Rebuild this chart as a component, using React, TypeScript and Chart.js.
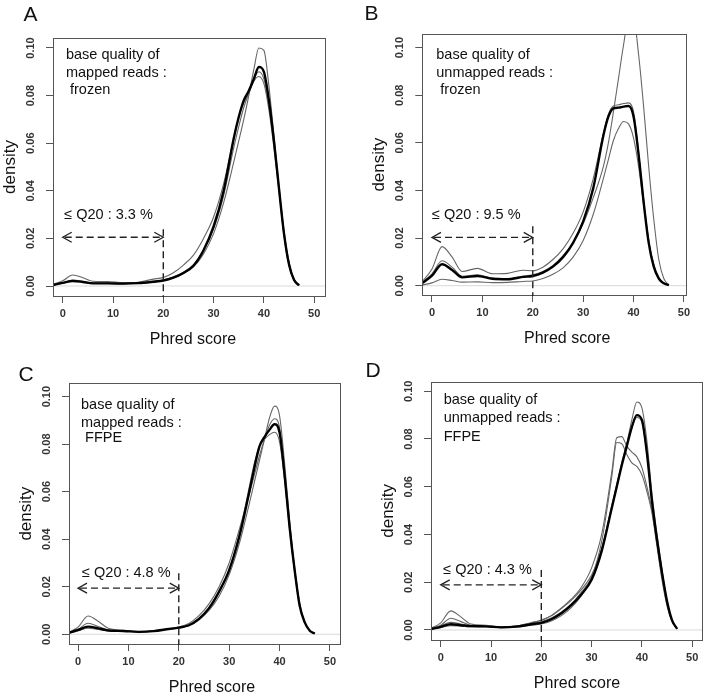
import React, { useEffect, useRef } from 'react';
import { Chart, registerables } from 'chart.js';
Chart.register(...registerables);

const FONT = '"Liberation Sans", Arial, Helvetica, sans-serif';

// Phred score grid shared by all density curves
const phred = [-2, 0, 2, 4, 6, 9, 12, 15, 18, 20, 22, 24, 26, 28, 30, 32, 34, 35, 36, 37, 38, 39, 40, 41, 42, 43, 44, 45, 46, 47];

const xTicks = [0, 10, 20, 30, 40, 50];
const yTicks = [0, 0.02, 0.04, 0.06, 0.08, 0.1];
const yTickLabels = ['0.00', '0.02', '0.04', '0.06', '0.08', '0.10'];
const xTitle = 'Phred score';
const yTitle = 'density';

// Panel A: mapped reads, frozen
const A_s1 = [0.0004, 0.0012, 0.0022, 0.0018, 0.0012, 0.0012, 0.001, 0.0012, 0.0018, 0.0023, 0.0034, 0.0052, 0.008, 0.0135, 0.022, 0.035, 0.052, 0.061, 0.07, 0.08, 0.091, 0.1, 0.099, 0.084, 0.063, 0.042, 0.023, 0.01, 0.003, 0.0004];
const A_s2 = [0.0004, 0.0013, 0.0025, 0.002, 0.0013, 0.0012, 0.001, 0.0012, 0.002, 0.0025, 0.0038, 0.0058, 0.009, 0.015, 0.024, 0.038, 0.058, 0.067, 0.075, 0.081, 0.087, 0.09, 0.087, 0.076, 0.06, 0.041, 0.022, 0.009, 0.0025, 0.0003];
const A_s3 = [0.0006, 0.0022, 0.0046, 0.0035, 0.002, 0.0019, 0.0014, 0.0016, 0.0029, 0.0036, 0.0056, 0.0088, 0.013, 0.02, 0.029, 0.043, 0.062, 0.071, 0.077, 0.081, 0.086, 0.088, 0.085, 0.074, 0.058, 0.04, 0.021, 0.0085, 0.0024, 0.0003];
const A_mean = [0.0004, 0.0013, 0.0021, 0.0017, 0.0011, 0.0011, 0.001, 0.0012, 0.0018, 0.0023, 0.0035, 0.0055, 0.0085, 0.015, 0.025, 0.04, 0.062, 0.071, 0.078, 0.082, 0.087, 0.092, 0.09, 0.078, 0.061, 0.041, 0.022, 0.009, 0.0025, 0.0003];

// Panel B: unmapped reads, frozen
const B_s1 = [0.0015, 0.007, 0.0164, 0.012, 0.006, 0.0073, 0.005, 0.0052, 0.0065, 0.0063, 0.0078, 0.011, 0.0155, 0.022, 0.031, 0.045, 0.064, 0.072, 0.0755, 0.076, 0.0765, 0.0768, 0.073, 0.056, 0.036, 0.019, 0.0085, 0.0032, 0.001, 0.0002];
const B_s2 = [0.0012, 0.005, 0.0105, 0.0078, 0.004, 0.0046, 0.0032, 0.003, 0.004, 0.0046, 0.006, 0.0085, 0.0125, 0.018, 0.026, 0.037, 0.05, 0.06, 0.073, 0.087, 0.101, 0.112, 0.112, 0.097, 0.075, 0.05, 0.028, 0.011, 0.003, 0.0003];
const B_s3 = [0.0003, 0.0012, 0.0027, 0.0022, 0.0015, 0.0016, 0.0013, 0.0014, 0.0018, 0.002, 0.003, 0.0048, 0.0075, 0.012, 0.019, 0.03, 0.045, 0.053, 0.061, 0.066, 0.069, 0.068, 0.062, 0.05, 0.034, 0.019, 0.009, 0.0035, 0.001, 0.0002];
const B_mean = [0.001, 0.0042, 0.009, 0.0066, 0.0035, 0.0041, 0.0029, 0.0027, 0.0037, 0.0041, 0.0055, 0.008, 0.012, 0.018, 0.027, 0.041, 0.063, 0.071, 0.0745, 0.0748, 0.0752, 0.0755, 0.071, 0.055, 0.035, 0.018, 0.008, 0.003, 0.001, 0.0002];

// Panel C: mapped reads, FFPE
const C_s1 = [0.0005, 0.002, 0.0046, 0.0033, 0.0018, 0.0015, 0.001, 0.0013, 0.0022, 0.0028, 0.0036, 0.006, 0.01, 0.016, 0.025, 0.038, 0.055, 0.064, 0.073, 0.082, 0.091, 0.096, 0.092, 0.072, 0.048, 0.028, 0.013, 0.005, 0.0015, 0.0003];
const C_s2 = [0.0007, 0.003, 0.0077, 0.0055, 0.0025, 0.0017, 0.0011, 0.0014, 0.0024, 0.003, 0.0045, 0.0078, 0.0128, 0.02, 0.03, 0.044, 0.059, 0.067, 0.075, 0.082, 0.088, 0.0907, 0.087, 0.068, 0.046, 0.027, 0.012, 0.005, 0.0015, 0.0003];
const C_s3 = [0.0004, 0.0014, 0.0025, 0.002, 0.0015, 0.0013, 0.001, 0.0013, 0.0021, 0.0027, 0.0037, 0.0063, 0.0105, 0.0175, 0.027, 0.042, 0.062, 0.072, 0.079, 0.082, 0.084, 0.085, 0.081, 0.065, 0.044, 0.026, 0.012, 0.005, 0.0015, 0.0003];
const C_mean = [0.0005, 0.0018, 0.0032, 0.0025, 0.0016, 0.0014, 0.001, 0.0013, 0.0022, 0.0028, 0.0038, 0.0065, 0.011, 0.018, 0.027, 0.041, 0.06, 0.07, 0.079, 0.083, 0.086, 0.0884, 0.085, 0.067, 0.045, 0.027, 0.012, 0.005, 0.0015, 0.0003];

// Panel D: unmapped reads, FFPE
const D_s1 = [0.0007, 0.003, 0.008, 0.0055, 0.0025, 0.002, 0.0012, 0.0016, 0.003, 0.0042, 0.006, 0.009, 0.0125, 0.017, 0.023, 0.034, 0.051, 0.06, 0.069, 0.078, 0.088, 0.0955, 0.093, 0.079, 0.057, 0.04, 0.025, 0.012, 0.004, 0.0005];
const D_s2 = [0.0005, 0.0017, 0.0032, 0.0025, 0.0017, 0.0016, 0.0011, 0.0015, 0.0027, 0.0035, 0.005, 0.0075, 0.011, 0.016, 0.022, 0.034, 0.052, 0.061, 0.07, 0.078, 0.085, 0.089, 0.087, 0.074, 0.054, 0.038, 0.024, 0.012, 0.004, 0.0005];
const D_s3 = [0.0005, 0.002, 0.0049, 0.0035, 0.002, 0.0018, 0.0012, 0.0016, 0.003, 0.004, 0.006, 0.0092, 0.013, 0.018, 0.026, 0.04, 0.066, 0.0805, 0.081, 0.077, 0.0745, 0.0725, 0.068, 0.06, 0.05, 0.036, 0.022, 0.011, 0.004, 0.0005];
const D_s4 = [0.0003, 0.001, 0.0018, 0.0016, 0.0014, 0.0014, 0.001, 0.0013, 0.002, 0.0025, 0.0038, 0.006, 0.0095, 0.0145, 0.022, 0.037, 0.064, 0.0785, 0.078, 0.0735, 0.07, 0.0685, 0.065, 0.058, 0.049, 0.035, 0.021, 0.01, 0.0035, 0.0005];
const D_mean = [0.0004, 0.0013, 0.0024, 0.002, 0.0016, 0.0015, 0.0011, 0.0014, 0.0024, 0.003, 0.0045, 0.007, 0.0105, 0.015, 0.021, 0.033, 0.051, 0.06, 0.069, 0.077, 0.085, 0.09, 0.088, 0.074, 0.054, 0.038, 0.024, 0.012, 0.004, 0.0005];

const letters = ['A', 'B', 'C', 'D'];
const noteLines = [
  ['base quality of', 'mapped reads :', ' frozen'],
  ['base quality of', 'unmapped reads :', ' frozen'],
  ['base quality of', 'mapped reads :', ' FFPE'],
  ['base quality of', 'unmapped reads :', 'FFPE'],
];
const q20Labels = ['≤ Q20 : 3.3 %', '≤ Q20 : 9.5 %', '≤ Q20 : 4.8 %', '≤ Q20 : 4.3 %'];
const q20Cut = 20;

const panelSamples = [
  [A_s1, A_s2, A_s3],
  [B_s1, B_s2, B_s3],
  [C_s1, C_s2, C_s3],
  [D_s1, D_s2, D_s3, D_s4],
];
const panelMeans = [A_mean, B_mean, C_mean, D_mean];

// layout (not data)
const layouts = [
  { left: 0, top: 0, pad: { left: 13, right: 28, top: 38, bottom: 24 }, xMin: -1.93, xMax: 52.15, yMin: -0.0042, yMax: 0.1042, titleDx: 4, letterX: 30.5, letterY: 15, noteX: 0.65, noteY: [0.097, 0.0894, 0.0824], q20X: 0.3, q20Y: 0.0298, arrowY: 0.0205, vTop: 0.0238 },
  { left: 353, top: 0, pad: { left: 29.3, right: 20, top: 34.3, bottom: 25 }, xMin: -1.92, xMax: 50.4, yMin: -0.0039, yMax: 0.1056, titleDx: 13, letterX: 18.5, letterY: 14, noteX: 0.85, noteY: [0.097, 0.0894, 0.082], q20X: 0.0, q20Y: 0.0297, arrowY: 0.0203, vTop: 0.025 },
  { left: 0, top: 350, pad: { left: 29, right: 13, top: 33.3, bottom: 26 }, xMin: -1.79, xMax: 52.0, yMin: -0.0041, yMax: 0.1056, titleDx: 7.5, letterX: 26, letterY: 25, noteX: 0.6, noteY: [0.0965, 0.0888, 0.0825], q20X: 0.8, q20Y: 0.0259, arrowY: 0.0194, vTop: 0.0257 },
  { left: 353, top: 350, pad: { left: 38, right: 4, top: 31.7, bottom: 30 }, xMin: -1.93, xMax: 51.95, yMin: -0.0042, yMax: 0.104, titleDx: 10.5, letterX: 20, letterY: 21, noteX: 0.6, noteY: [0.0964, 0.0887, 0.0807], q20X: 0.5, q20Y: 0.0251, arrowY: 0.0189, vTop: 0.0251 },
];

function makeDecor(i: number) {
  const L = layouts[i];
  return {
    id: 'decor' + i,
    afterDraw(chart: any) {
      const ctx = chart.ctx;
      const ca = chart.chartArea;
      const xs = chart.scales.x;
      const ys = chart.scales.y;
      ctx.save();
      // box
      ctx.strokeStyle = '#555';
      ctx.lineWidth = 1;
      ctx.setLineDash([]);
      ctx.strokeRect(Math.round(ca.left) + 0.5, Math.round(ca.top) + 0.5, Math.round(ca.right - ca.left), Math.round(ca.bottom - ca.top));
      // y tick labels (rotated, R style)
      ctx.fillStyle = '#333';
      ctx.font = `bold 11px ${FONT}`;
      ctx.textAlign = 'center';
      ctx.textBaseline = 'middle';
      yTicks.forEach((v, k) => {
        const py = ys.getPixelForValue(v);
        ctx.save();
        ctx.translate(ca.left - 22.5, py);
        ctx.rotate(-Math.PI / 2);
        ctx.fillText(yTickLabels[k], 0, 0);
        ctx.restore();
      });
      // axis titles
      ctx.fillStyle = '#111';
      ctx.font = `17px ${FONT}`;
      ctx.save();
      ctx.translate(ca.left - 43, (ca.top + ca.bottom) / 2);
      ctx.rotate(-Math.PI / 2);
      ctx.fillText(yTitle, 0, 0);
      ctx.restore();
      ctx.font = `16px ${FONT}`;
      ctx.fillText(xTitle, (ca.left + ca.right) / 2 + L.titleDx, ca.bottom + 44);
      // panel letter
      ctx.font = `21px ${FONT}`;
      ctx.fillText(letters[i], L.letterX, L.letterY);
      // annotation
      ctx.font = `14.5px ${FONT}`;
      ctx.textAlign = 'left';
      noteLines[i].forEach((t, k) => {
        ctx.fillText(t, xs.getPixelForValue(L.noteX), ys.getPixelForValue(L.noteY[k]));
      });
      ctx.fillText(q20Labels[i], xs.getPixelForValue(L.q20X), ys.getPixelForValue(L.q20Y));
      // dashed double arrow
      const x0 = xs.getPixelForValue(0);
      const x1 = xs.getPixelForValue(q20Cut);
      const ya = ys.getPixelForValue(L.arrowY);
      ctx.strokeStyle = '#222';
      ctx.lineWidth = 1.4;
      ctx.setLineDash([7, 4]);
      ctx.beginPath();
      ctx.moveTo(x0 + 2, ya);
      ctx.lineTo(x1 - 2, ya);
      ctx.stroke();
      ctx.beginPath();
      ctx.moveTo(x1, ys.getPixelForValue(L.vTop));
      ctx.lineTo(x1, ca.bottom + 1);
      ctx.stroke();
      ctx.setLineDash([]);
      ctx.lineWidth = 1.3;
      ctx.beginPath();
      ctx.moveTo(x0 + 9, ya - 5);
      ctx.lineTo(x0, ya);
      ctx.lineTo(x0 + 9, ya + 5);
      ctx.moveTo(x1 - 9, ya - 5);
      ctx.lineTo(x1, ya);
      ctx.lineTo(x1 - 9, ya + 5);
      ctx.stroke();
      ctx.restore();
    },
  };
}

function Panel({ i }: { i: number }) {
  const ref = useRef<HTMLCanvasElement | null>(null);
  useEffect(() => {
    if (!ref.current) return;
    const L = layouts[i];
    const toPts = (arr: number[]) => phred.map((x, k) => ({ x, y: arr[k] }));
    const datasets: any[] = [];
    datasets.push({
      data: [{ x: L.xMin, y: 0 }, { x: L.xMax, y: 0 }],
      borderColor: '#d9d9d9',
      borderWidth: 1,
      pointRadius: 0,
      order: 3,
    });
    panelSamples[i].forEach((s) => {
      datasets.push({
        data: toPts(s),
        borderColor: '#666',
        borderWidth: 1.1,
        pointRadius: 0,
        cubicInterpolationMode: 'monotone',
        order: 2,
      });
    });
    datasets.push({
      data: toPts(panelMeans[i]),
      borderColor: '#000',
      borderWidth: 2.4,
      pointRadius: 0,
      cubicInterpolationMode: 'monotone',
      order: 1,
    });
    const chart = new Chart(ref.current, {
      type: 'line',
      data: { datasets },
      options: {
        animation: false,
        responsive: false,
        events: [],
        layout: { padding: L.pad },
        plugins: { legend: { display: false }, tooltip: { enabled: false }, title: { display: false } },
        scales: {
          x: {
            type: 'linear',
            min: L.xMin,
            max: L.xMax,
            afterBuildTicks: (s: any) => { s.ticks = xTicks.map((v) => ({ value: v })); },
            afterFit: (s: any) => { s.height = 30; },
            grid: { display: true, drawOnChartArea: false, drawTicks: true, tickLength: 7, tickColor: '#555', lineWidth: 1 },
            border: { display: false },
            ticks: { font: { family: FONT, size: 11, weight: 'bold' }, color: '#333', padding: 4, maxRotation: 0, autoSkip: false },
          },
          y: {
            type: 'linear',
            min: L.yMin,
            max: L.yMax,
            afterBuildTicks: (s: any) => { s.ticks = yTicks.map((v) => ({ value: v })); },
            afterFit: (s: any) => { s.width = 40; },
            grid: { display: true, drawOnChartArea: false, drawTicks: true, tickLength: 7, tickColor: '#555', lineWidth: 1 },
            border: { display: false },
            ticks: { display: false },
          },
        },
      } as any,
      plugins: [makeDecor(i)],
    });
    return () => chart.destroy();
  }, [i]);
  const L = layouts[i];
  return (
    <canvas
      ref={ref}
      width={353}
      height={350}
      style={{ position: 'absolute', left: L.left, top: L.top, width: 353, height: 350 }}
    />
  );
}

export default function App() {
  return (
    <div style={{ position: 'absolute', left: 0, top: 0, width: 706, height: 700, background: '#fff', overflow: 'hidden' }}>
      {[0, 1, 2, 3].map((i) => (
        <Panel key={i} i={i} />
      ))}
    </div>
  );
}
